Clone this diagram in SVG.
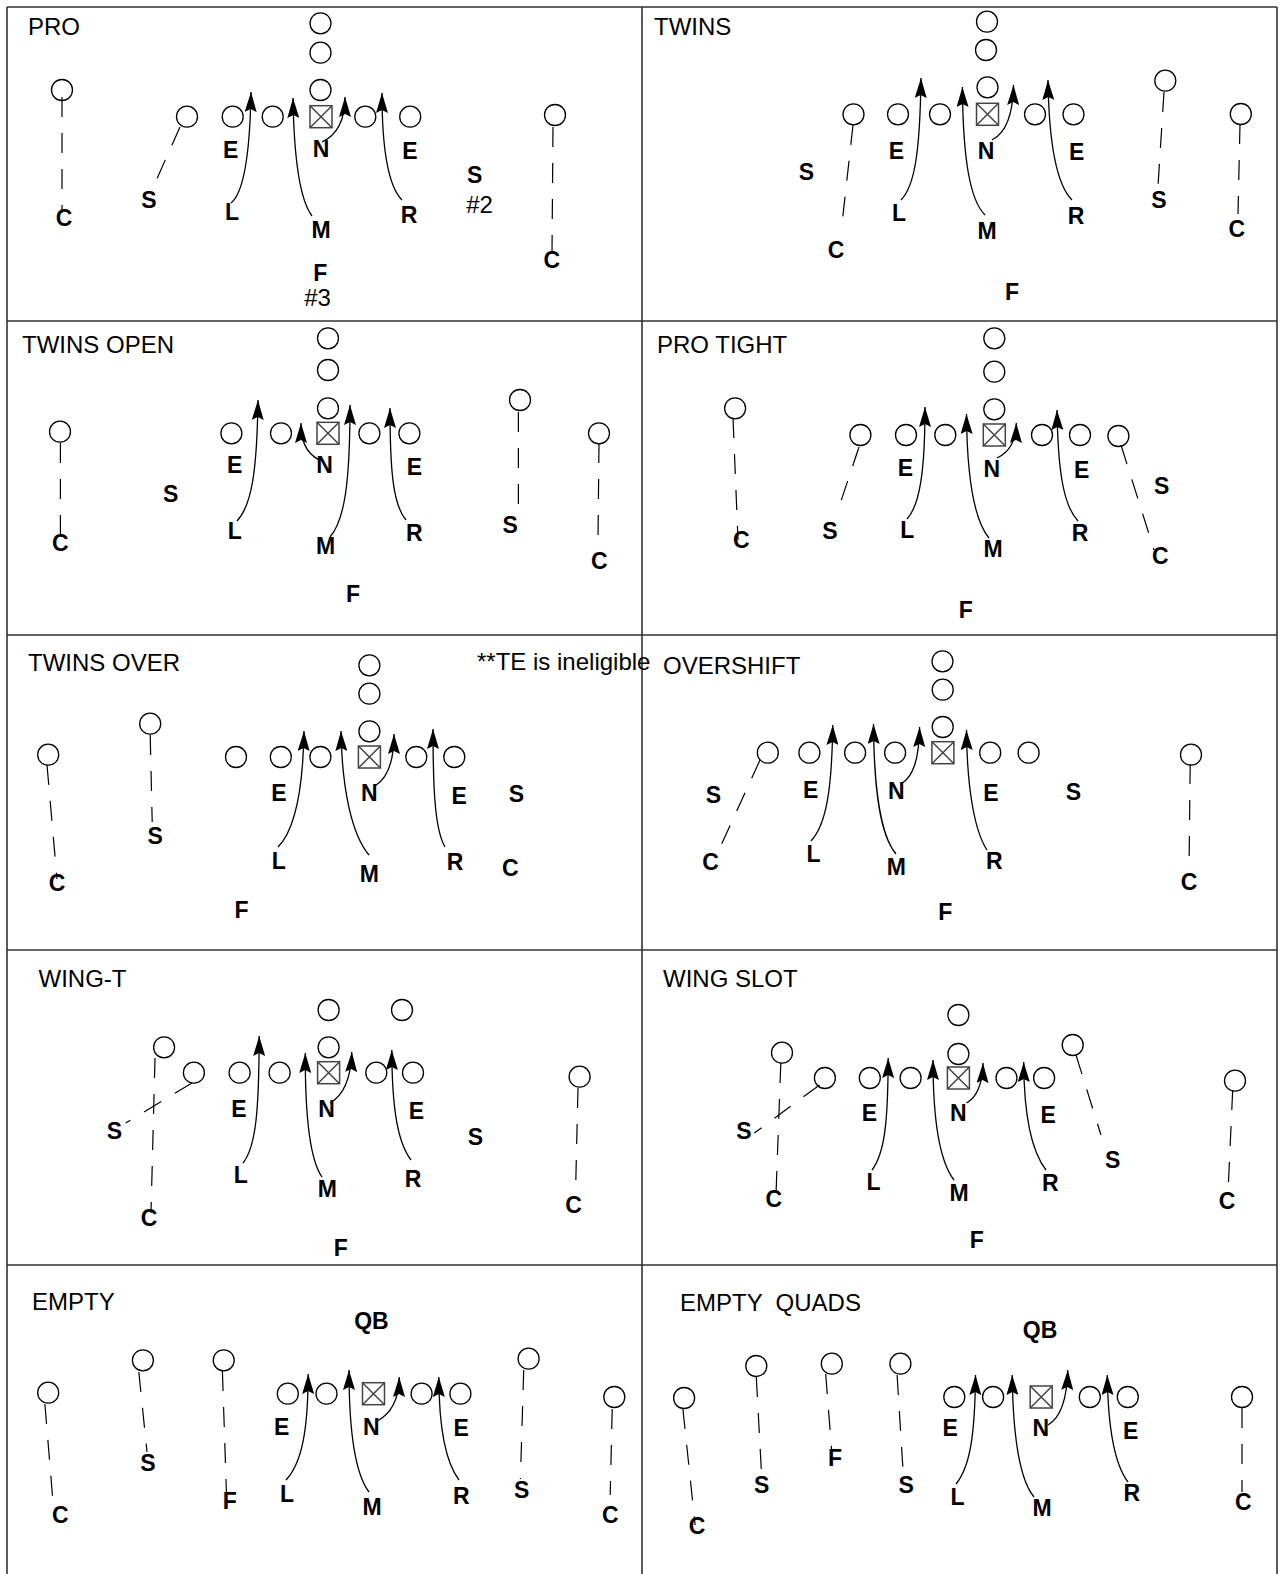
<svg xmlns="http://www.w3.org/2000/svg" xmlns:xlink="http://www.w3.org/1999/xlink" width="1280" height="1574" viewBox="0 0 1280 1574">
<style>
.o{fill:none;stroke:#000;stroke-width:1.3}
.bx{fill:none;stroke:#444;stroke-width:1.5}
.d{fill:none;stroke:#000;stroke-width:1.2;stroke-dasharray:20 16}
.a{fill:none;stroke:#000;stroke-width:1.3;marker-end:url(#ah)}
.g{fill:none;stroke:#333;stroke-width:1.6}
.t{font-family:"Liberation Sans",Arial,sans-serif;font-size:24px;fill:#000}
.r{font-family:"Liberation Sans",Arial,sans-serif;font-size:24px;fill:#000;text-anchor:middle}
.b{font-family:"Liberation Sans",Arial,sans-serif;font-size:23px;font-weight:bold;fill:#000;text-anchor:middle}
</style>
<defs>
<marker id="ah" viewBox="0 0 20 12" refX="20" refY="6" markerWidth="20" markerHeight="12" markerUnits="userSpaceOnUse" orient="auto"><path d="M0,0 L20,6 L0,12 L3,6 Z" fill="#000"/></marker>
<g id="box"><rect x="-11" y="-11" width="22" height="22" class="bx"/><path d="M-11,-11 L11,11 M11,-11 L-11,11" class="bx"/></g>
</defs>
<rect width="1280" height="1574" fill="#fff"/>
<g id="grid">
<path class="g" d="M7,7 H1277 M7,7 V1574 M1277,7 V1574 M642,7 V1574 M7,321 H1277 M7,635 H1277 M7,950 H1277 M7,1265 H1277"/>
</g>

<!-- PRO -->
<g id="pro">
<g id="pro-nodes">
<text class="t" x="28" y="35">PRO</text>
<circle class="o" cx="320.5" cy="23.3" r="10.5"/><circle class="o" cx="320.5" cy="52.7" r="10.5"/><circle class="o" cx="320.5" cy="90" r="10.5"/>
<use xlink:href="#box" x="321" y="116.7"/>
<circle class="o" cx="187" cy="116.7" r="10.5"/><circle class="o" cx="232.7" cy="116.7" r="10.5"/><circle class="o" cx="272.7" cy="116.7" r="10.5"/><circle class="o" cx="365.3" cy="116.7" r="10.5"/><circle class="o" cx="410.2" cy="116.7" r="10.5"/>
<circle class="o" cx="62" cy="90" r="10.5"/><circle class="o" cx="555" cy="115" r="10.5"/>
<text class="b" x="230.6" y="158.3">E</text><text class="b" x="321" y="156.7">N</text><text class="b" x="410" y="159.3">E</text>
<text class="b" x="149" y="208.3">S</text><text class="b" x="64" y="226">C</text><text class="b" x="232" y="220">L</text><text class="b" x="321" y="237.7">M</text><text class="b" x="409" y="222.7">R</text>
<text class="b" x="474.7" y="183.3">S</text><text class="r" x="479.6" y="212.7">#2</text><text class="b" x="551.8" y="268.3">C</text>
<text class="b" x="320.4" y="281">F</text><text class="r" x="317.6" y="306">#3</text>
</g>
<g id="pro-connectors">
<path class="d" d="M62,97 L62,213"/><path class="d" d="M180,127 L155,183"/><path class="d" d="M553,127 L552,253"/>
<path class="a" d="M231,203 C245,192 250,150 251,92"/>
<path class="a" d="M312,216 C300,200 294,160 293,98"/>
<path class="a" d="M322,142 C337,135 345,120 345,97"/>
<path class="a" d="M402,200 C388,186 382,150 382,93"/>
</g>
</g>

<!-- TWINS -->
<g id="twins">
<g id="twins-nodes">
<text class="t" x="654" y="35">TWINS</text>
<circle class="o" cx="987" cy="21.7" r="10.5"/><circle class="o" cx="986" cy="50" r="10.5"/><circle class="o" cx="987.5" cy="87.3" r="10.5"/>
<use xlink:href="#box" x="987.5" y="114.3"/>
<circle class="o" cx="853.5" cy="114.3" r="10.5"/><circle class="o" cx="898" cy="114.3" r="10.5"/><circle class="o" cx="940" cy="114.3" r="10.5"/><circle class="o" cx="1035" cy="114.3" r="10.5"/><circle class="o" cx="1073.5" cy="114.3" r="10.5"/>
<circle class="o" cx="1165.3" cy="80.7" r="10.5"/><circle class="o" cx="1240.8" cy="114" r="10.5"/>
<text class="b" x="806.5" y="180">S</text><text class="b" x="896.3" y="159.3">E</text><text class="b" x="986" y="159.3">N</text><text class="b" x="1076.7" y="160">E</text>
<text class="b" x="899" y="220.7">L</text><text class="b" x="987" y="239.3">M</text><text class="b" x="1076" y="224">R</text><text class="b" x="1012" y="300">F</text>
<text class="b" x="836" y="258.3">C</text><text class="b" x="1159" y="208.3">S</text><text class="b" x="1236.7" y="237.3">C</text>
</g>
<g id="twins-connectors">
<path class="d" d="M853,125 L842,224"/><path class="d" d="M1164,92 L1158,186"/><path class="d" d="M1240,124 L1238,214"/>
<path class="a" d="M901,200 C915,186 920,150 921,78"/>
<path class="a" d="M985,215 C970,200 963,160 962.4,87"/>
<path class="a" d="M992,140 C1006,133 1013,115 1013.5,85"/>
<path class="a" d="M1072,200 C1058,186 1049,150 1048,80"/>
</g>
</g>

<!-- TWINS OPEN -->
<g id="twins-open">
<g id="twins-open-nodes">
<text class="t" x="22" y="353">TWINS OPEN</text>
<circle class="o" cx="328" cy="338.3" r="10.5"/><circle class="o" cx="328" cy="370" r="10.5"/><circle class="o" cx="328" cy="408.3" r="10.5"/>
<use xlink:href="#box" x="328" y="433.3"/>
<circle class="o" cx="231.4" cy="433.3" r="10.5"/><circle class="o" cx="281" cy="433.3" r="10.5"/><circle class="o" cx="369.4" cy="433.3" r="10.5"/><circle class="o" cx="409.4" cy="433.3" r="10.5"/>
<circle class="o" cx="60" cy="431.7" r="10.5"/><circle class="o" cx="520" cy="400" r="10.5"/><circle class="o" cx="599" cy="433.3" r="10.5"/>
<text class="b" x="234.7" y="473.3">E</text><text class="b" x="324.5" y="472.7">N</text><text class="b" x="414.3" y="475">E</text>
<text class="b" x="170.6" y="501.7">S</text><text class="b" x="234.7" y="539.3">L</text><text class="b" x="325.7" y="554">M</text><text class="b" x="414.3" y="540.7">R</text>
<text class="b" x="510.2" y="533.3">S</text><text class="b" x="60.4" y="550.7">C</text><text class="b" x="599.2" y="569.3">C</text><text class="b" x="353" y="601.7">F</text>
</g>
<g id="twins-open-connectors">
<path class="d" d="M60.4,443 L60.4,537"/><path class="d" d="M518.4,412 L518.4,520"/><path class="d" d="M599,443 L598,540"/>
<path class="a" d="M237,521 C252,505 257,470 258,400"/>
<path class="a" d="M319,460 C305,452 301,440 301,423"/>
<path class="a" d="M330,537 C345,520 350,480 350,405"/>
<path class="a" d="M406,520 C393,505 390,470 390,408"/>
</g>
</g>

<!-- PRO TIGHT -->
<g id="pro-tight">
<g id="pro-tight-nodes">
<text class="t" x="657" y="353">PRO TIGHT</text>
<circle class="o" cx="994.3" cy="338.3" r="10.5"/><circle class="o" cx="994.3" cy="371.7" r="10.5"/><circle class="o" cx="994.3" cy="409.3" r="10.5"/>
<use xlink:href="#box" x="994.3" y="435"/>
<circle class="o" cx="860.4" cy="435" r="10.5"/><circle class="o" cx="906" cy="435" r="10.5"/><circle class="o" cx="945.3" cy="435" r="10.5"/><circle class="o" cx="1042" cy="435" r="10.5"/><circle class="o" cx="1080" cy="435" r="10.5"/><circle class="o" cx="1118.4" cy="436" r="10.5"/>
<circle class="o" cx="735.1" cy="408.3" r="10.5"/>
<text class="b" x="905.3" y="476">E</text><text class="b" x="991.8" y="476.7">N</text><text class="b" x="1081.6" y="478.3">E</text>
<text class="b" x="1161.6" y="494">S</text><text class="b" x="829.8" y="539.3">S</text><text class="b" x="907.3" y="538.3">L</text><text class="b" x="993" y="556.7">M</text><text class="b" x="1080" y="540.7">R</text>
<text class="b" x="741.2" y="548.3">C</text><text class="b" x="1160.4" y="564">C</text><text class="b" x="965.7" y="618.3">F</text>
</g>
<g id="pro-tight-connectors">
<path class="d" d="M733,418 L738,540"/><path class="d" d="M859,447 L838,510"/><path class="d" d="M1121,445 L1154,550"/>
<path class="a" d="M907,519 C920,505 925,470 925,407"/>
<path class="a" d="M989,538 C974,520 967,480 966.5,414"/>
<path class="a" d="M997,458 C1010,452 1016,440 1016.3,423"/>
<path class="a" d="M1078,521 C1063,505 1058,470 1057,410"/>
</g>
</g>

<!-- TWINS OVER -->
<g id="twins-over">
<g id="twins-over-nodes">
<text class="t" x="28" y="671">TWINS OVER</text>
<text class="t" x="477" y="670">**TE is ineligible</text>
<circle class="o" cx="369.4" cy="665.3" r="10.5"/><circle class="o" cx="369.4" cy="693.7" r="10.5"/><circle class="o" cx="369.4" cy="731.3" r="10.5"/>
<use xlink:href="#box" x="369.4" y="757"/>
<circle class="o" cx="236" cy="757" r="10.5"/><circle class="o" cx="280.8" cy="757" r="10.5"/><circle class="o" cx="320.4" cy="757" r="10.5"/><circle class="o" cx="416.3" cy="757" r="10.5"/><circle class="o" cx="454.3" cy="757" r="10.5"/>
<circle class="o" cx="48.2" cy="754.7" r="10.5"/><circle class="o" cx="150.2" cy="723.7" r="10.5"/>
<text class="b" x="278.8" y="801.3">E</text><text class="b" x="369.4" y="801.3">N</text><text class="b" x="459.2" y="803.7">E</text><text class="b" x="516.3" y="802">S</text>
<text class="b" x="155.1" y="843.7">S</text><text class="b" x="278.8" y="868.7">L</text><text class="b" x="369.4" y="882">M</text><text class="b" x="455.1" y="870.3">R</text>
<text class="b" x="510.2" y="876">C</text><text class="b" x="57.1" y="891">C</text><text class="b" x="241.6" y="918">F</text>
</g>
<g id="twins-over-connectors">
<path class="d" d="M47,765 L57,879"/><path class="d" d="M150.2,735 L152.2,822"/>
<path class="a" d="M278,847 C295,830 303,790 304,731"/>
<path class="a" d="M369,855 C352,835 342,790 341,731"/>
<path class="a" d="M375,786 C388,778 394,760 394,734"/>
<path class="a" d="M445,847 C435,830 433,790 433,729"/>
</g>
</g>

<!-- OVERSHIFT -->
<g id="overshift">
<g id="overshift-nodes">
<text class="t" x="663" y="674">OVERSHIFT</text>
<circle class="o" cx="942.5" cy="661.3" r="10.5"/><circle class="o" cx="942.7" cy="689.7" r="10.5"/><circle class="o" cx="942.7" cy="727" r="10.5"/>
<use xlink:href="#box" x="942.9" y="752.7"/>
<circle class="o" cx="767.8" cy="752.7" r="10.5"/><circle class="o" cx="809.4" cy="752.7" r="10.5"/><circle class="o" cx="855.1" cy="752.7" r="10.5"/><circle class="o" cx="895.1" cy="752.7" r="10.5"/><circle class="o" cx="990.2" cy="752.7" r="10.5"/><circle class="o" cx="1028.6" cy="752.7" r="10.5"/>
<circle class="o" cx="1191" cy="754.7" r="10.5"/>
<text class="b" x="713.5" y="802.7">S</text><text class="b" x="810.6" y="798">E</text><text class="b" x="896.3" y="799.3">N</text><text class="b" x="991" y="801.3">E</text><text class="b" x="1073.5" y="800.3">S</text>
<text class="b" x="710.6" y="870.3">C</text><text class="b" x="813.5" y="862">L</text><text class="b" x="896.3" y="874.7">M</text><text class="b" x="994.3" y="868.7">R</text>
<text class="b" x="1189" y="890.3">C</text><text class="b" x="945.3" y="920.3">F</text>
</g>
<g id="overshift-connectors">
<path class="d" d="M760,760 L721.6,844"/><path class="d" d="M1190.2,764 L1189,872"/>
<path class="a" d="M811,841 C826,825 832,790 832.7,725"/>
<path class="a" d="M896,854 C880,835 874,790 873.5,724"/>
<path class="a" d="M901,784 C913,777 919,760 919.6,727"/>
<path class="a" d="M987,850 C975,832 967,790 966.5,730"/>
</g>
</g>

<!-- WING-T -->
<g id="wing-t">
<g id="wing-t-nodes">
<text class="t" x="38.5" y="987">WING-T</text>
<circle class="o" cx="328.6" cy="1010" r="10.5"/><circle class="o" cx="402" cy="1010" r="10.5"/><circle class="o" cx="328.6" cy="1047.3" r="10.5"/>
<use xlink:href="#box" x="328.6" y="1072.7"/>
<circle class="o" cx="193.9" cy="1072.7" r="10.5"/><circle class="o" cx="239.6" cy="1072.7" r="10.5"/><circle class="o" cx="279.6" cy="1072.7" r="10.5"/><circle class="o" cx="376.3" cy="1072.7" r="10.5"/><circle class="o" cx="413" cy="1072.7" r="10.5"/>
<circle class="o" cx="164.1" cy="1047.3" r="10.5"/><circle class="o" cx="579.6" cy="1076.7" r="10.5"/>
<text class="b" x="238.8" y="1116.7">E</text><text class="b" x="326.5" y="1116.7">N</text><text class="b" x="416.3" y="1119.3">E</text>
<text class="b" x="114.3" y="1139.3">S</text><text class="b" x="475.5" y="1145">S</text><text class="b" x="240.8" y="1183.3">L</text><text class="b" x="327.3" y="1197.3">M</text><text class="b" x="413" y="1186.7">R</text>
<text class="b" x="149" y="1226">C</text><text class="b" x="573.5" y="1212.7">C</text><text class="b" x="340.8" y="1256">F</text>
</g>
<g id="wing-t-connectors">
<path class="d" d="M155,1058 L151,1213"/><path class="d" d="M192,1083 L125.7,1123"/><path class="d" d="M578,1088 L575.5,1194"/>
<path class="a" d="M243,1163 C256,1147 259,1110 259.2,1036"/>
<path class="a" d="M322,1177 C310,1160 305,1120 305.3,1053"/>
<path class="a" d="M330,1103 C344,1095 351,1078 351.8,1052"/>
<path class="a" d="M411,1160 C398,1143 392,1110 391.8,1050"/>
</g>
</g>

<!-- WING SLOT -->
<g id="wing-slot">
<g id="wing-slot-nodes">
<text class="t" x="663" y="987">WING SLOT</text>
<circle class="o" cx="958.4" cy="1015" r="10.5"/><circle class="o" cx="958.4" cy="1054" r="10.5"/>
<use xlink:href="#box" x="958.4" y="1078"/>
<circle class="o" cx="824.9" cy="1078" r="10.5"/><circle class="o" cx="869.8" cy="1078" r="10.5"/><circle class="o" cx="910.6" cy="1078" r="10.5"/><circle class="o" cx="1006.5" cy="1078" r="10.5"/><circle class="o" cx="1044.1" cy="1078" r="10.5"/>
<circle class="o" cx="782" cy="1052.7" r="10.5"/><circle class="o" cx="1072.7" cy="1045" r="10.5"/><circle class="o" cx="1235" cy="1080.7" r="10.5"/>
<text class="b" x="869.4" y="1120.7">E</text><text class="b" x="958.4" y="1120.7">N</text><text class="b" x="1048.2" y="1122.7">E</text>
<text class="b" x="744" y="1139.3">S</text><text class="b" x="1112.7" y="1168.3">S</text><text class="b" x="873.5" y="1190">L</text><text class="b" x="959.2" y="1200.7">M</text><text class="b" x="1050.2" y="1190.7">R</text>
<text class="b" x="773.9" y="1207.3">C</text><text class="b" x="1227" y="1209.3">C</text><text class="b" x="976.7" y="1248.3">F</text>
</g>
<g id="wing-slot-connectors">
<path class="d" d="M780.8,1063 L775.9,1197"/><path class="d" d="M819.6,1085 L754.3,1133"/><path class="d" d="M1076,1055 L1101,1135"/><path class="d" d="M1232.7,1090 L1227.8,1197"/>
<path class="a" d="M872,1170 C885,1153 888,1120 888.2,1058"/>
<path class="a" d="M954,1180 C940,1162 933,1125 933,1060"/>
<path class="a" d="M966.5,1103 C977,1097 982.5,1085 983,1063"/>
<path class="a" d="M1046,1170 C1032,1152 1024,1120 1023.7,1062"/>
</g>
</g>

<!-- EMPTY -->
<g id="empty">
<g id="empty-nodes">
<text class="t" x="32" y="1309.5">EMPTY</text>
<text class="b" x="371.4" y="1328.7">QB</text>
<circle class="o" cx="48.2" cy="1392.7" r="10.5"/><circle class="o" cx="142.9" cy="1360.3" r="10.5"/><circle class="o" cx="223.7" cy="1360.3" r="10.5"/>
<circle class="o" cx="287.8" cy="1393.7" r="10.5"/><circle class="o" cx="326.5" cy="1393.7" r="10.5"/>
<use xlink:href="#box" x="373.5" y="1393.7"/>
<circle class="o" cx="421.6" cy="1393.7" r="10.5"/><circle class="o" cx="460.4" cy="1393.7" r="10.5"/>
<circle class="o" cx="528.6" cy="1358.7" r="10.5"/><circle class="o" cx="614.3" cy="1397" r="10.5"/>
<text class="b" x="281.6" y="1435.3">E</text><text class="b" x="371.4" y="1435.3">N</text><text class="b" x="461.2" y="1436">E</text>
<text class="b" x="147.8" y="1471.3">S</text><text class="b" x="229.8" y="1508.7">F</text><text class="b" x="287" y="1502">L</text><text class="b" x="372.2" y="1515.3">M</text><text class="b" x="461.2" y="1503.7">R</text>
<text class="b" x="521.6" y="1498">S</text><text class="b" x="60.4" y="1522.7">C</text><text class="b" x="610.2" y="1522.7">C</text>
</g>
<g id="empty-connectors">
<path class="d" d="M44.9,1404 L53,1502"/><path class="d" d="M138.8,1372 L147,1452"/><path class="d" d="M222.4,1371 L226.5,1495"/><path class="d" d="M523.7,1370 L520.4,1479"/><path class="d" d="M612.2,1409 L610.2,1495"/>
<path class="a" d="M286,1480 C302,1463 308,1430 308.2,1374"/>
<path class="a" d="M369,1492 C356,1475 349,1435 349,1370"/>
<path class="a" d="M375.5,1422 C390,1415 399,1400 399.2,1377"/>
<path class="a" d="M459,1480 C446,1463 439,1430 438.8,1377"/>
</g>
</g>

<!-- EMPTY QUADS -->
<g id="empty-quads">
<g id="empty-quads-nodes">
<text class="t" x="680" y="1311" xml:space="preserve">EMPTY  QUADS</text>
<text class="b" x="1040" y="1338">QB</text>
<circle class="o" cx="684.1" cy="1398" r="10.5"/><circle class="o" cx="756.3" cy="1366" r="10.5"/><circle class="o" cx="831.8" cy="1363.7" r="10.5"/><circle class="o" cx="900.4" cy="1363.7" r="10.5"/>
<circle class="o" cx="954.3" cy="1397" r="10.5"/><circle class="o" cx="993.1" cy="1397" r="10.5"/>
<use xlink:href="#box" x="1041.2" y="1397"/>
<circle class="o" cx="1089.8" cy="1397" r="10.5"/><circle class="o" cx="1127.8" cy="1397" r="10.5"/><circle class="o" cx="1242" cy="1397" r="10.5"/>
<text class="b" x="950.2" y="1436">E</text><text class="b" x="1040.8" y="1436">N</text><text class="b" x="1130.6" y="1438.7">E</text>
<text class="b" x="835.1" y="1466">F</text><text class="b" x="761.6" y="1492.7">S</text><text class="b" x="906.1" y="1492.7">S</text>
<text class="b" x="957.6" y="1504.7">L</text><text class="b" x="1042" y="1516">M</text><text class="b" x="1131.8" y="1501.3">R</text>
<text class="b" x="1243.3" y="1510.3">C</text><text class="b" x="697.1" y="1533.7">C</text>
</g>
<g id="empty-quads-connectors">
<path class="d" d="M682.9,1409 L695.1,1525"/><path class="d" d="M756.3,1377 L761.6,1475"/><path class="d" d="M825.7,1374 L831.8,1452"/><path class="d" d="M897.1,1375 L903.3,1475"/><path class="d" d="M1242,1408 L1242,1492"/>
<path class="a" d="M956,1484 C970,1467 975,1435 975.5,1375"/>
<path class="a" d="M1034,1497 C1020,1480 1013,1440 1012.2,1375"/>
<path class="a" d="M1048,1425 C1060,1418 1067,1400 1067.8,1370"/>
<path class="a" d="M1128,1482 C1115,1465 1108,1430 1107.3,1375"/>
</g>
</g>
</svg>
